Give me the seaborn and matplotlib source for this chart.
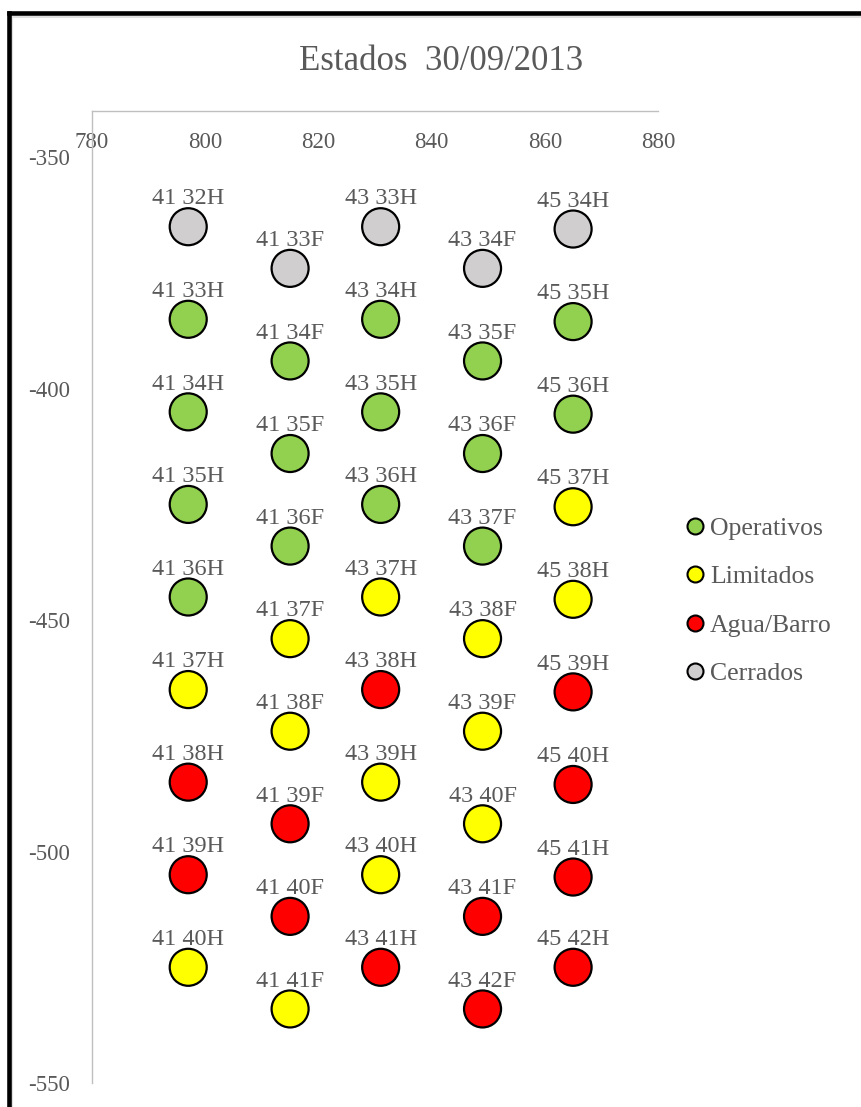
import matplotlib
matplotlib.use("Agg")
import matplotlib.pyplot as plt
from matplotlib.lines import Line2D
import seaborn as sns
import pandas as pd

# ---------------- data ----------------
col_41H_x = 797
col_41F_x = 815
col_43H_x = 831
col_43F_x = 849
col_45H_x = 865

labels_41H = ["41 32H", "41 33H", "41 34H", "41 35H", "41 36H", "41 37H", "41 38H", "41 39H", "41 40H"]
y_41H = [-365, -385, -405, -425, -445, -465, -485, -505, -525]
state_41H = ["Cerrados", "Operativos", "Operativos", "Operativos", "Operativos", "Limitados", "Agua/Barro", "Agua/Barro", "Limitados"]

labels_41F = ["41 33F", "41 34F", "41 35F", "41 36F", "41 37F", "41 38F", "41 39F", "41 40F", "41 41F"]
y_41F = [-374, -394, -414, -434, -454, -474, -494, -514, -534]
state_41F = ["Cerrados", "Operativos", "Operativos", "Operativos", "Limitados", "Limitados", "Agua/Barro", "Agua/Barro", "Limitados"]

labels_43H = ["43 33H", "43 34H", "43 35H", "43 36H", "43 37H", "43 38H", "43 39H", "43 40H", "43 41H"]
y_43H = [-365, -385, -405, -425, -445, -465, -485, -505, -525]
state_43H = ["Cerrados", "Operativos", "Operativos", "Operativos", "Limitados", "Agua/Barro", "Limitados", "Limitados", "Agua/Barro"]

labels_43F = ["43 34F", "43 35F", "43 36F", "43 37F", "43 38F", "43 39F", "43 40F", "43 41F", "43 42F"]
y_43F = [-374, -394, -414, -434, -454, -474, -494, -514, -534]
state_43F = ["Cerrados", "Operativos", "Operativos", "Operativos", "Limitados", "Limitados", "Limitados", "Agua/Barro", "Agua/Barro"]

labels_45H = ["45 34H", "45 35H", "45 36H", "45 37H", "45 38H", "45 39H", "45 40H", "45 41H", "45 42H"]
y_45H = [-365.5, -385.5, -405.5, -425.5, -445.5, -465.5, -485.5, -505.5, -525]
state_45H = ["Cerrados", "Operativos", "Operativos", "Limitados", "Limitados", "Agua/Barro", "Agua/Barro", "Agua/Barro", "Agua/Barro"]

categories = ["Operativos", "Limitados", "Agua/Barro", "Cerrados"]
colors = ["#92D050", "#FFFF00", "#FF0000", "#D0CECE"]

x_ticks = [780, 800, 820, 840, 860, 880]
y_ticks = [-350, -400, -450, -500, -550]
title = "Estados  30/09/2013"

# ---------------- build table ----------------
rows = []
for cx, labs, ys, sts in [
    (col_41H_x, labels_41H, y_41H, state_41H),
    (col_41F_x, labels_41F, y_41F, state_41F),
    (col_43H_x, labels_43H, y_43H, state_43H),
    (col_43F_x, labels_43F, y_43F, state_43F),
    (col_45H_x, labels_45H, y_45H, state_45H),
]:
    for l, yv, s in zip(labs, ys, sts):
        rows.append({"x": cx, "y": yv, "label": l, "estado": s})
df = pd.DataFrame(rows)

# ---------------- plot ----------------
sns.set_style("white")
plt.rcParams["font.family"] = ["Liberation Serif", "DejaVu Serif"]
plt.rcParams["axes.unicode_minus"] = False
text_color = "#595959"

W, H = 862, 1107
fig = plt.figure(figsize=(W / 100, H / 100), dpi=100)
ax = fig.add_axes([92 / W, 1 - 1083 / H, (658 - 92) / W, (1083 - 111) / H])

palette = dict(zip(categories, colors))
sns.scatterplot(data=df, x="x", y="y", hue="estado", hue_order=categories,
                palette=palette, s=710, edgecolor="black", linewidth=1.6,
                ax=ax, legend=False, zorder=3)

for _, r in df.iterrows():
    ax.annotate(r["label"], (r["x"], r["y"]), xytext=(0, 20), textcoords="offset points",
                ha="center", va="center", fontsize=17.5, color=text_color, zorder=4)

ax.set_xlim(780, 880)
ax.set_ylim(-550, -340)
ax.set_xticks(x_ticks)
ax.set_yticks(y_ticks)
ax.set_xlabel("")
ax.set_ylabel("")

for side in ["right", "bottom"]:
    ax.spines[side].set_visible(False)
for side in ["left", "top"]:
    ax.spines[side].set_color("#BFBFBF")
    ax.spines[side].set_linewidth(1.0)

ax.tick_params(axis="x", bottom=False, labelbottom=False, top=False, labeltop=True,
               length=0, pad=-30, labelsize=16.5, labelcolor=text_color)
ax.tick_params(axis="y", left=False, length=0, pad=16, labelsize=16.5, labelcolor=text_color)
ax.set_facecolor("white")

# legend
handles = [Line2D([0], [0], marker="o", linestyle="none", markersize=11.5,
                  markerfacecolor=c, markeredgecolor="black", markeredgewidth=1.5)
           for c in colors]
leg = fig.legend(handles, categories, loc="upper left",
                 bbox_to_anchor=(683 / W, 1 - 517 / H), frameon=False,
                 fontsize=18.5, handlelength=0.95, handletextpad=0.1,
                 labelspacing=0.99, borderpad=0, borderaxespad=0)
for t in leg.get_texts():
    t.set_color(text_color)

# title
fig.text(441 / W, 1 - 62 / H, title, ha="center", va="center", fontsize=25, color=text_color)

# outer border (partial frame) with faint shadow
bx, by = 8.8 / W, 1 - 13.3 / H
fig.add_artist(Line2D([bx + 3.5 / W, bx + 3.5 / W], [-0.05, by - 3.5 / H], transform=fig.transFigure,
                      color="#E0E0E0", linewidth=1.5))
fig.add_artist(Line2D([bx + 3.5 / W, 1.05], [by - 3.5 / H, by - 3.5 / H], transform=fig.transFigure,
                      color="#E0E0E0", linewidth=1.5))
fig.add_artist(Line2D([bx, bx], [-0.05, by], transform=fig.transFigure,
                      color="black", linewidth=3.3, solid_capstyle="projecting"))
fig.add_artist(Line2D([bx, 1.05], [by, by], transform=fig.transFigure,
                      color="black", linewidth=3.3, solid_capstyle="projecting"))

fig.savefig("out.png", dpi=100, facecolor="white")
